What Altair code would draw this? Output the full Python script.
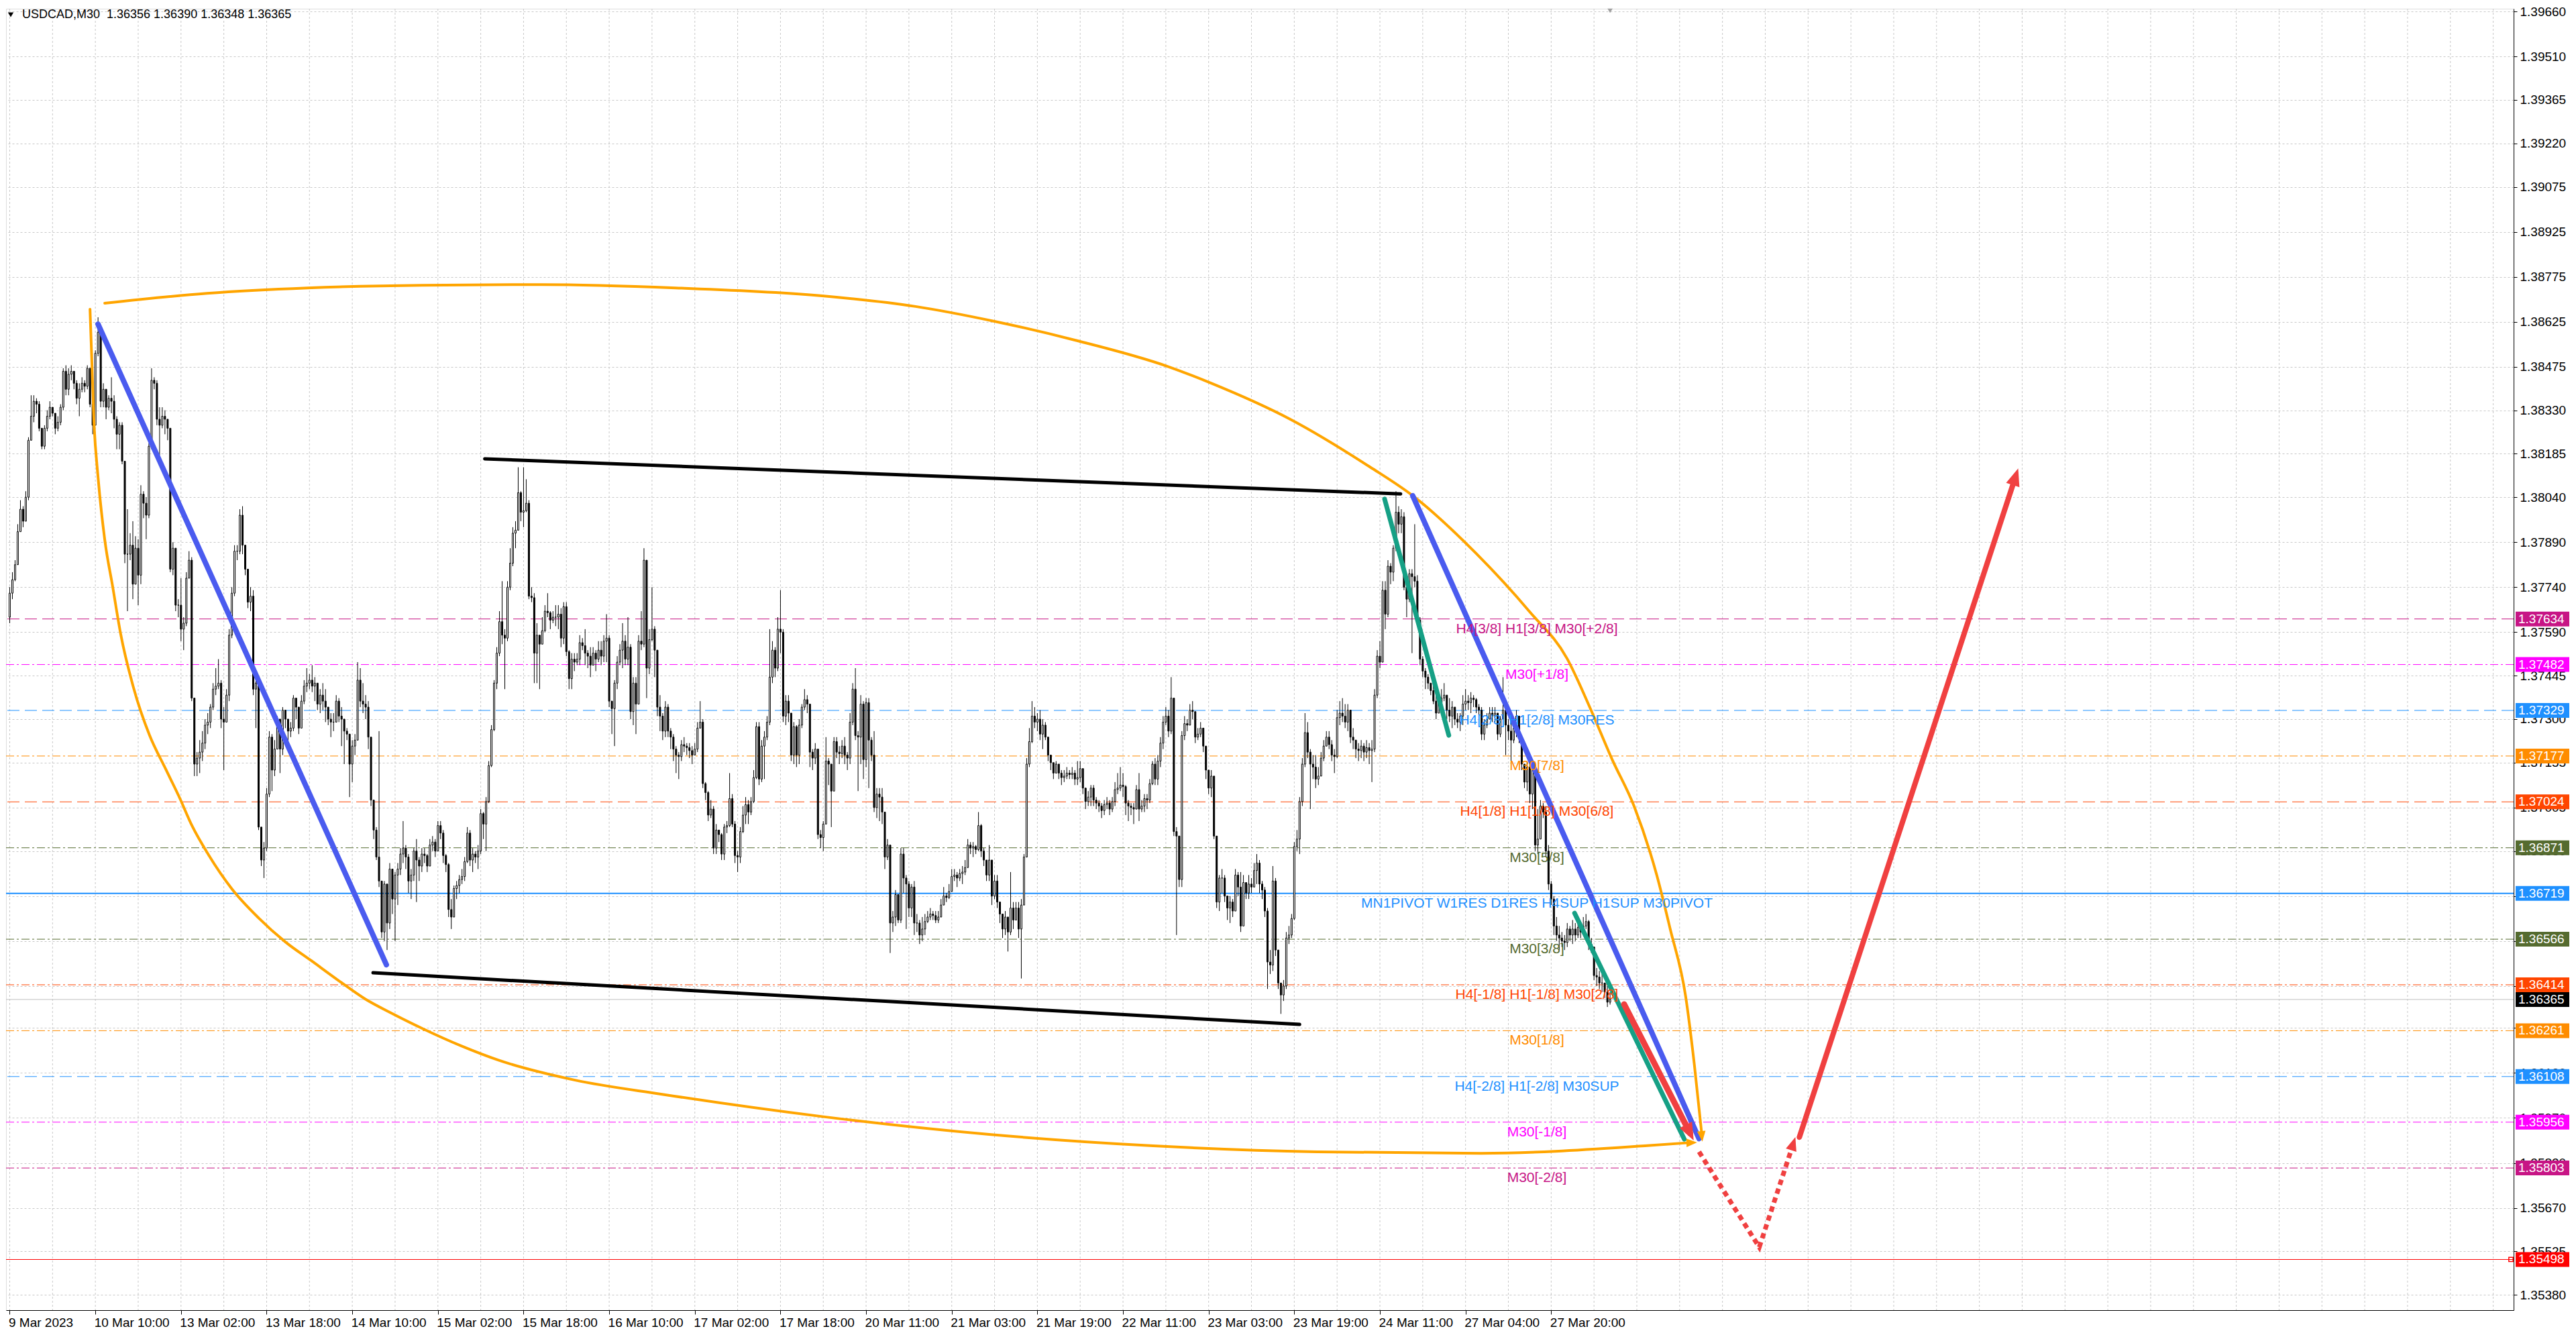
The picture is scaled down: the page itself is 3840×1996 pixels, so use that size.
import altair as alt
import pandas as pd

# ---------------- data ----------------
# candle values in 1e-5 units above 1.30000 (bar index = M30 bar number from 9 Mar 2023 18:00)
first_open = 7640
closes = [
 7720,7765,7815,7925,8000,7960,8040,8230,8310,8360,
 8350,8270,8210,8270,8310,8340,8320,8270,8290,8340,
 8460,8400,8450,8460,8420,8370,8400,8420,8410,8470,
 8350,8280,8520,8590,8360,8400,8340,8370,8360,8300,
 8250,8280,8160,7850,7850,7880,7750,7870,7780,8050,
 8020,7980,8210,8430,8420,8300,8280,8310,8300,8270,
 7800,7870,7680,7680,7600,7620,7770,7830,7370,7150,
 7170,7190,7220,7280,7290,7340,7400,7410,7420,7300,
 7290,7380,7580,7720,7860,7860,7980,7880,7800,7690,
 7710,7400,7420,6940,6830,6870,7050,7240,7130,7200,
 7300,7200,7330,7300,7260,7270,7370,7340,7270,7360,
 7410,7420,7430,7410,7420,7350,7380,7360,7340,7300,
 7290,7290,7360,7310,7300,7260,7250,7150,7210,7230,
 7430,7360,7350,7340,7240,7030,6930,6840,6760,6590,
 6750,6620,6800,6700,6780,6800,6850,6870,6840,6760,
 6780,6860,6830,6810,6850,6845,6810,6880,6890,6860,
 6945,6920,6845,6815,6665,6640,6735,6745,6765,6775,
 6825,6920,6830,6850,6840,6860,6985,6950,7025,7145,
 7265,7420,7520,7625,7580,7570,7740,7820,7920,7930,
 8055,7990,7995,8020,7710,7705,7520,7580,7550,7595,
 7660,7655,7630,7640,7640,7650,7570,7675,7525,7435,
 7500,7490,7500,7555,7545,7520,7510,7480,7520,7500,
 7530,7510,7560,7570,7360,7335,7420,7490,7530,7560,
 7500,7540,7325,7420,7350,7560,7550,7830,7470,7565,
 7600,7530,7340,7310,7260,7340,7260,7240,7200,7180,
 7175,7215,7210,7205,7195,7180,7200,7270,7290,7085,
 7055,6980,7000,6870,6930,6915,6850,6940,6945,7035,
 6950,6845,6840,6925,6980,7015,6990,7025,7105,7275,
 7100,7210,7240,7290,7440,7530,7470,7600,7590,7310,
 7360,7320,7180,7275,7180,7280,7340,7365,7350,7190,
 7170,7200,6915,6905,6950,7160,7150,7060,7225,7190,
 7185,7210,7180,7170,7290,7400,7245,7240,7350,7165,
 7355,7230,7180,7005,7050,7040,6990,6840,6880,6620,
 6640,6715,6630,6850,6770,6750,6670,6740,6620,6620,
 6580,6600,6625,6640,6650,6645,6630,6640,6680,6710,
 6705,6725,6775,6780,6770,6785,6790,6805,6880,6870,
 6875,6865,6945,6860,6830,6780,6830,6710,6760,6690,
 6650,6600,6640,6590,6670,6630,6670,6600,6680,6840,
 7150,7225,7310,7290,7300,7250,7280,7240,7180,7155,
 7120,7150,7120,7105,7110,7120,7115,7120,7100,7105,
 7135,7070,7025,7040,7070,7030,7020,7010,6995,7015,
 7020,7000,7025,7065,7070,7080,7075,7020,7010,7005,
 7000,7065,7000,7010,7035,7030,7085,7150,7100,7160,
 7220,7290,7310,7260,7370,6925,6910,6765,7245,7285,
 7280,7330,7325,7240,7250,7270,7210,7130,7070,7110,
 6910,6690,6770,6770,6710,6670,6690,6660,6780,6740,
 6610,6755,6720,6750,6740,6795,6820,6750,6730,6660,
 6490,6480,6760,6530,6420,6380,6410,6570,6580,6635,
 6875,6900,7025,7150,7255,7190,7150,7140,7100,7110,
 7170,7210,7240,7215,7180,7175,7305,7320,7310,7290,
 7330,7240,7230,7200,7195,7210,7190,7205,7195,7200,
 7380,7510,7490,7730,7650,7810,7790,7870,7990,7950,
 7975,7740,7700,7785,7775,7760,7630,7500,7460,7440,
 7420,7395,7360,7320,7355,7370,7380,7330,7310,7340,
 7300,7290,7310,7350,7360,7355,7370,7365,7340,7330,
 7250,7280,7300,7320,7310,7320,7250,7300,7330,7280,
 7260,7230,7270,7310,7240,7150,7090,7140,7050,7130,
 6880,6900,7010,6990,6860,6750,6700,6610,6580,6570,
 6560,6555,6600,6580,6600,6580,6605,6590,6610,6625,
 6550,6540,6445,6440,6420,6420,6390,6356,6365,
]
highs = [
 7740,7790,7830,7950,8030,8010,8060,8240,8380,8380,
 8370,8360,8270,8280,8330,8360,8340,8320,8310,8350,
 8470,8480,8470,8480,8460,8430,8420,8440,8430,8480,
 8460,8360,8530,8640,8590,8420,8400,8380,8440,8380,
 8310,8290,8290,8160,8000,7920,7960,7910,7900,8080,
 8060,8040,8220,8470,8440,8430,8340,8340,8330,8290,
 8110,7890,7830,7700,7770,7640,7790,7860,7840,7370,
 7190,7230,7260,7300,7320,7350,7420,7470,7500,7430,
 7340,7400,7600,7740,7880,7880,8000,8010,7880,7800,
 7740,7730,7450,7410,6940,6890,7070,7260,7250,7230,
 7310,7290,7340,7330,7300,7290,7380,7360,7340,7380,
 7430,7470,7450,7480,7440,7420,7400,7420,7400,7340,
 7320,7320,7380,7370,7340,7300,7270,7240,7230,7250,
 7490,7470,7420,7380,7360,7240,7030,6940,7260,6760,
 6760,6650,6820,6800,6790,6820,6870,6960,6880,6850,
 6800,6870,6900,6840,6870,6870,6850,6900,6910,6900,
 6960,6960,6930,6850,6820,6700,6745,6760,6780,6800,
 6840,6940,6930,6870,6860,6880,7000,6990,7040,7160,
 7280,7430,7540,7660,7760,7600,7760,7870,7940,7960,
 8140,8060,8140,8100,8030,7740,7720,7620,7560,7640,
 7680,7720,7660,7660,7680,7680,7670,7690,7690,7530,
 7520,7520,7520,7580,7570,7600,7530,7540,7540,7530,
 7560,7560,7580,7650,7580,7360,7430,7510,7550,7620,
 7580,7640,7550,7440,7440,7580,7660,7870,7830,7600,
 7740,7610,7530,7380,7320,7360,7350,7270,7250,7210,
 7190,7230,7240,7220,7220,7210,7220,7290,7360,7300,
 7090,7060,7030,7010,6950,6930,6920,6950,6960,7120,
 7050,6960,6860,6940,7010,7040,7030,7040,7130,7290,
 7290,7230,7260,7310,7600,7560,7540,7640,7730,7600,
 7380,7380,7320,7290,7280,7300,7350,7400,7380,7220,
 7200,7220,7140,6930,6960,7240,7170,7110,7240,7240,
 7210,7230,7240,7190,7320,7420,7470,7260,7380,7360,
 7370,7370,7240,7260,7070,7070,7070,6990,6900,6840,
 6660,6730,6700,6870,6870,6780,6760,6750,6760,6650,
 6630,6640,6650,6660,6670,6660,6660,6660,6700,6740,
 6720,6750,6800,6800,6790,6800,6810,6830,6900,6890,
 6890,6880,6990,6950,6870,6830,6880,6770,6780,6780,
 6690,6650,6660,6620,6790,6690,6690,6690,6700,6850,
 7170,7270,7360,7340,7320,7330,7300,7290,7240,7180,
 7150,7160,7150,7130,7130,7140,7130,7140,7130,7160,
 7160,7110,7070,7060,7080,7080,7040,7030,7020,7030,
 7040,7030,7040,7090,7120,7140,7120,7080,7030,7020,
 7020,7080,7120,7030,7050,7050,7100,7160,7170,7180,
 7240,7310,7340,7330,7440,7370,6940,6910,7260,7310,
 7300,7350,7360,7290,7270,7290,7260,7210,7130,7130,
 7100,6910,6780,6800,6780,6710,6710,6700,6800,6790,
 6790,6780,6750,6780,6770,6820,6850,6830,6760,6740,
 6670,6530,6810,6770,6520,6420,6430,6590,6610,6650,
 6890,6930,7040,7170,7320,7290,7200,7180,7180,7140,
 7190,7230,7260,7260,7230,7200,7330,7360,7370,7350,
 7350,7300,7270,7230,7220,7230,7220,7230,7220,7230,
 7400,7530,7560,7760,7760,7830,7820,7880,8060,8010,
 8000,7990,7750,7800,7800,7950,7780,7640,7510,7470,
 7450,7420,7420,7380,7380,7400,7420,7350,7370,7360,
 7330,7320,7320,7380,7400,7380,7390,7380,7370,7350,
 7340,7300,7320,7340,7340,7340,7310,7310,7440,7350,
 7300,7290,7300,7330,7300,7240,7150,7160,7150,7150,
 7070,7000,7030,7020,7010,6880,6760,6710,6640,6610,
 6590,6580,6620,6610,6630,6620,6630,6620,6640,6650,
 6630,6570,6540,6470,6460,6450,6420,6410,6390,
]
lows = [
 7620,7700,7760,7840,7940,7940,7990,8030,8230,8290,
 8320,8260,8200,8200,8260,8300,8310,8250,8260,8280,
 8330,8380,8380,8430,8400,8350,8310,8390,8390,8400,
 8340,8250,8300,8510,8340,8340,8300,8330,8320,8270,
 8200,8200,8150,7820,7660,7830,7700,7750,7680,7750,
 7970,7900,7970,8200,8400,8280,8180,8270,8250,8230,
 7790,7780,7660,7640,7560,7530,7610,7770,7360,7110,
 7110,7120,7160,7200,7250,7270,7330,7380,7400,7270,
 7130,7320,7360,7570,7710,7830,7850,7850,7780,7670,
 7660,7380,7270,6930,6810,6770,6860,7040,7060,7110,
 7200,7120,7180,7270,7210,7240,7260,7300,7250,7280,
 7350,7390,7400,7390,7360,7330,7320,7330,7290,7280,
 7240,7260,7290,7290,7210,7150,7230,7040,7090,7180,
 7230,7340,7320,7300,7200,7010,6900,6830,6740,6570,
 6560,6530,6600,6650,6560,6680,6780,6820,6800,6720,
 6700,6760,6690,6760,6790,6820,6790,6820,6860,6840,
 6880,6900,6820,6790,6640,6600,6680,6700,6720,6750,
 6760,6820,6810,6790,6820,6800,6850,6900,6860,7020,
 7140,7260,7400,7510,7550,7400,7560,7730,7810,7870,
 7930,7960,7940,7990,7700,7690,7420,7420,7400,7550,
 7590,7640,7600,7620,7610,7600,7540,7550,7510,7400,
 7400,7460,7480,7480,7530,7480,7470,7440,7480,7460,
 7490,7480,7490,7490,7340,7250,7210,7400,7480,7470,
 7480,7480,7300,7280,7250,7420,7530,7540,7370,7450,
 7560,7440,7310,7260,7230,7240,7240,7200,7160,7120,
 7100,7160,7190,7180,7170,7150,7180,7190,7270,7070,
 7030,6960,6970,6850,6850,6890,6830,6830,6920,6940,
 6940,6820,6790,6820,6920,6950,6950,6980,7020,7100,
 7080,7090,7100,7230,7280,7420,7440,7460,7520,7290,
 7280,7290,7160,7150,7140,7150,7270,7330,7320,7140,
 7130,7150,6900,6870,6860,6950,7080,6940,7090,7170,
 7150,7170,7150,7130,7150,7280,7230,7060,7150,7100,
 7140,7070,7160,6990,6970,6960,6950,6800,6830,6520,
 6590,6610,6620,6620,6720,6600,6640,6640,6580,6590,
 6550,6560,6580,6620,6630,6630,6620,6620,6640,6680,
 6690,6700,6730,6760,6740,6760,6750,6780,6820,6850,
 6840,6850,6860,6840,6810,6760,6760,6680,6700,6670,
 6620,6570,6580,6525,6580,6600,6630,6570,6435,6680,
 6840,7140,7220,7270,7260,7230,7200,7230,7160,7130,
 7100,7120,7100,7080,7090,7100,7100,7100,7080,7080,
 7090,7050,7000,7010,7010,7010,7000,6990,6970,6980,
 7000,6980,6990,7010,7050,7060,7040,6980,6960,6980,
 6950,7000,6960,6990,6990,7000,7020,7080,7080,7080,
 7140,7200,7280,7240,7250,6910,6580,6740,6740,7230,
 7260,7310,7300,7220,7230,7240,7190,7100,7050,7040,
 6900,6670,6660,6720,6690,6630,6620,6640,6670,6710,
 6590,6720,6700,6700,6720,6740,6750,6720,6700,6640,
 6400,6450,6460,6510,6400,6317,6360,6400,6550,6570,
 6630,6860,6850,7010,7140,7170,7000,7100,7070,7080,
 7110,7160,7210,7200,7160,7120,7170,7280,7290,7270,
 7260,7220,7200,7170,7160,7170,7160,7170,7150,7090,
 7190,7370,7470,7500,7600,7640,7750,7760,7860,7920,
 7920,7730,7640,7690,7520,7740,7610,7480,7440,7400,
 7400,7380,7350,7300,7320,7340,7360,7300,7290,7270,
 7280,7270,7260,7280,7330,7330,7320,7340,7320,7310,
 7230,7230,7270,7300,7290,7290,7230,7240,7300,7180,
 7230,7160,7220,7240,7220,7130,7070,7060,7020,7000,
 6860,6850,6900,6970,6840,6730,6680,6580,6560,6530,
 6540,6530,6540,6560,6550,6560,6570,6570,6580,6600,
 6530,6520,6430,6410,6400,6390,6370,6340,6348,
]

symbol = "USDCAD,M30"
last_ohlc = [1.36356, 1.36390, 1.36348, 1.36365]

time_labels = ["9 Mar 2023", "10 Mar 10:00", "13 Mar 02:00", "13 Mar 18:00", "14 Mar 10:00",
               "15 Mar 02:00", "15 Mar 18:00", "16 Mar 10:00", "17 Mar 02:00", "17 Mar 18:00",
               "20 Mar 11:00", "21 Mar 03:00", "21 Mar 19:00", "22 Mar 11:00", "23 Mar 03:00",
               "23 Mar 19:00", "24 Mar 11:00", "27 Mar 04:00", "27 Mar 20:00"]
label_step = 32
grid_step = 16
shift_marker_bar = 598

y_ticks = [1.39660, 1.39510, 1.39365, 1.39220, 1.39075, 1.38925, 1.38775, 1.38625, 1.38475,
           1.38330, 1.38185, 1.38040, 1.37890, 1.37740, 1.37590, 1.37445, 1.37300, 1.37155,
           1.37005, 1.36860, 1.36710, 1.36560, 1.36410, 1.36270, 1.36120, 1.35970, 1.35820,
           1.35670, 1.35525, 1.35380]

level_prices = [1.37634, 1.37482, 1.37329, 1.37177, 1.37024, 1.36871, 1.36719, 1.36566,
                1.36414, 1.36261, 1.36108, 1.35956, 1.35803]
level_names = ["H4[3/8] H1[3/8] M30[+2/8]", "M30[+1/8]", "H4[2/8] H1[2/8] M30RES", "M30[7/8]",
               "H4[1/8] H1[1/8] M30[6/8]", "M30[5/8]",
               "MN1PIVOT W1RES D1RES H4SUP H1SUP M30PIVOT", "M30[3/8]",
               "H4[-1/8] H1[-1/8] M30[2/8]", "M30[1/8]", "H4[-2/8] H1[-2/8] M30SUP",
               "M30[-1/8]", "M30[-2/8]"]
level_colors = ["#C71585", "#FF00FF", "#1E90FF", "#FF8C00", "#FF4500", "#556B2F", "#1E90FF",
                "#556B2F", "#FF4500", "#FF8C00", "#1E90FF", "#FF00FF", "#C71585"]
level_styles = ["dash", "dashdot", "dash", "dashdot", "dash", "dashdot", "solid", "dashdot",
                "dashdot", "dashdot", "dash", "dashdot", "dashdot"]

current_price = 1.36365
stop_price = 1.35498

# drawn objects: (bar index, price)
blue_a = [(33.0, 1.38617), (140.75, 1.36481)]
blue_b = [(524.25, 1.38045), (631.25, 1.35901)]
black_top = [(177.5, 1.38168), (519.75, 1.38051)]
black_bottom = [(135.75, 1.36454), (482.0, 1.36282)]
green_a = [(513.75, 1.38034), (537.75, 1.37246)]
green_b = [(584.75, 1.36653), (625.75, 1.35899)]
red_down = [(603.25, 1.36349), (627.9, 1.35919)]
red_dotted = [(631.25, 1.35857), (653.75, 1.35539), (666.5, 1.35885)]
red_up = [(668.75, 1.35906), (749.6, 1.38111)]
orange_lower = [(30.0, 1.38667), (31.5, 1.38284), (33.0, 1.38107), (35.5, 1.37899), (38.5, 1.37740),
                (41.5, 1.37582), (46.25, 1.37405), (52.25, 1.37246), (58.25, 1.37134),
                (63.25, 1.37042), (68.25, 1.36942), (74.25, 1.36848), (83.0, 1.36734),
                (93.0, 1.36637), (103.0, 1.36557), (112.75, 1.36494), (122.75, 1.36429),
                (132.75, 1.36367), (142.5, 1.36320), (154.25, 1.36268), (168.75, 1.36210),
                (182.5, 1.36163), (211.25, 1.36096), (243.75, 1.36049), (305.0, 1.35973),
                (366.0, 1.35915), (427.25, 1.35877), (488.5, 1.35857), (549.75, 1.35852),
                (611.0, 1.35877), (628.5, 1.35888)]
orange_upper = [(35.5, 1.38687), (73.75, 1.38720), (111.25, 1.38738), (154.25, 1.38747),
                (198.75, 1.38749), (248.75, 1.38738), (304.25, 1.38711), (338.5, 1.38676),
                (368.25, 1.38626), (398.0, 1.38564), (432.75, 1.38476), (448.75, 1.38421),
                (478.5, 1.38300), (508.25, 1.38141), (524.25, 1.38045), (548.0, 1.37852),
                (567.75, 1.37660), (582.0, 1.37501), (590.5, 1.37338), (598.75, 1.37166),
                (607.0, 1.37009), (615.5, 1.36778), (620.5, 1.36599), (626.25, 1.36375),
                (629.5, 1.36147), (632.25, 1.35917)]
# arrow heads: bar, price, rotation (deg, clockwise from up), colour, size
heads = [(630.5, 1.35888, 88, "#FFA500", 250),
         (632.5, 1.35891, 174, "#FFA500", 250),
         (629.25, 1.35895, 153, "#F04040", 680),
         (667.25, 1.35906, 18, "#F04040", 420),
         (750.5, 1.38136, 18, "#F04040", 680)]

# ---------------- chart ----------------
W, H = 3738, 1940
XDOM = [-0.125, 934.375]
YDOM = [1.35329, 1.39669]
FONT = "Liberation Sans"

lab_js = "[" + ",".join("'%s'" % s for s in time_labels) + "]"
x_axis = alt.Axis(values=[i * label_step for i in range(len(time_labels))],
                  labelExpr=f"{lab_js}[round(datum.value / {label_step})]",
                  labelAlign="left", labelBaseline="top", labelPadding=3, tickSize=6,
                  grid=False, domainColor="black", tickColor="black", labelColor="black",
                  labelFont=FONT, labelFontSize=19, labelOverlap=False, labelFlush=False,
                  labelOffset=-2, title=None)
y_axis = alt.Axis(orient="right", values=y_ticks, format=".5f", labelAlign="left",
                  labelBaseline="middle", labelPadding=4, tickSize=5, grid=True,
                  gridDash=[3, 3], gridColor="#C8C8C8", domainColor="black", tickColor="black",
                  labelColor="black", labelFont=FONT, labelFontSize=19, labelOverlap=False,
                  title=None)


def X(field="bar"):
    return alt.X(f"{field}:Q", scale=alt.Scale(domain=XDOM, nice=False, zero=False), axis=x_axis)


def Y(field="price"):
    return alt.Y(f"{field}:Q", scale=alt.Scale(domain=YDOM, nice=False, zero=False), axis=y_axis)


def px(v):
    return round(1.3 + v * 1e-5, 5)


n = len(closes)
opens = [first_open] + closes[:-1]
cdf = pd.DataFrame({"bar": list(range(n)), "open": [px(v) for v in opens],
                    "close": [px(v) for v in closes], "high": [px(v) for v in highs],
                    "low": [px(v) for v in lows]})

layers = []

# vertical grid
gdf = pd.DataFrame({"bar": list(range(0, int(XDOM[1]) + 1, grid_step))})
layers.append(alt.Chart(gdf).mark_rule(color="#C8C8C8", strokeWidth=1, strokeDash=[3, 3]).encode(x=X()))

# level lines
ldf = pd.DataFrame({"price": level_prices, "name": level_names, "color": level_colors,
                    "style": level_styles})
dashes = {"dash": [18, 8], "dashdot": [12, 4, 3, 4]}
for st, d in dashes.items():
    layers.append(alt.Chart(ldf[ldf["style"] == st]).mark_rule(strokeWidth=1, strokeDash=d).encode(
        y=Y(), color=alt.Color("color:N", scale=None)))
layers.append(alt.Chart(ldf[ldf["style"] == "solid"]).mark_rule(strokeWidth=2).encode(
    y=Y(), color=alt.Color("color:N", scale=None)))
layers.append(alt.Chart(pd.DataFrame({"price": [current_price]})).mark_rule(
    strokeWidth=1, color="#C0C0C0").encode(y=Y()))
layers.append(alt.Chart(pd.DataFrame({"price": [stop_price]})).mark_rule(
    strokeWidth=1, color="#FF0000").encode(y=Y()))
layers.append(alt.Chart(pd.DataFrame({"price": [stop_price]})).mark_point(
    shape="square", size=40, filled=False, color="#FF0000", strokeWidth=1.5, opacity=1).encode(
    y=Y(), x=alt.value(W - 4)))

# candles
layers.append(alt.Chart(cdf).mark_rule(color="black", strokeWidth=1).encode(
    x=X(), y=Y("low"), y2="high"))
layers.append(alt.Chart(cdf).mark_bar(size=2, stroke="black", strokeWidth=1).encode(
    x=X(), y=Y("open"), y2="close",
    fill=alt.condition("datum.close > datum.open", alt.value("white"), alt.value("black"))))


def line(points, color, width, dash=None, cap="round", interp="linear"):
    df = pd.DataFrame({"bar": [p[0] for p in points], "price": [p[1] for p in points],
                       "i": list(range(len(points)))})
    kw = dict(color=color, strokeWidth=width, strokeCap=cap, interpolate=interp)
    if dash:
        kw["strokeDash"] = dash
    return alt.Chart(df).mark_line(**kw).encode(x=X(), y=Y(), order="i:Q")


layers.append(line(black_top, "black", 5))
layers.append(line(black_bottom, "black", 5))
layers.append(line(orange_lower, "#FFA500", 4, interp="monotone"))
layers.append(line(orange_upper, "#FFA500", 4, interp="monotone"))
layers.append(line(blue_a, "#4A5BEF", 8))
layers.append(line(blue_b, "#4A5BEF", 8))
layers.append(line(green_a, "#16A085", 7))
layers.append(line(green_b, "#16A085", 7))
layers.append(line(red_down, "#F04040", 9))
layers.append(line(red_dotted, "#F04040", 7, dash=[8, 6], cap="butt"))
layers.append(line(red_up, "#F04040", 8))

hdf = pd.DataFrame({"bar": [h[0] for h in heads], "price": [h[1] for h in heads],
                    "ang": [h[2] for h in heads], "color": [h[3] for h in heads],
                    "size": [h[4] for h in heads]})
layers.append(alt.Chart(hdf).mark_point(shape="M0,0L-0.8,2L0.8,2Z", filled=True, opacity=1,
                                        strokeWidth=0).encode(
    x=X(), y=Y(), angle=alt.Angle("ang:Q", scale=None), color=alt.Color("color:N", scale=None),
    size=alt.Size("size:Q", scale=None)))

# level text labels
layers.append(alt.Chart(ldf).mark_text(align="center", baseline="alphabetic", dy=21, fontSize=21,
                                       font=FONT).encode(
    x=alt.value(2282), y=Y(), text="name:N", color=alt.Color("color:N", scale=None)))

# price tags on the right axis
tdf = pd.DataFrame({"price": level_prices + [current_price, stop_price],
                    "color": level_colors + ["#000000", "#FF0000"]})
layers.append(alt.Chart(tdf).mark_tick(orient="horizontal", size=80, thickness=22, opacity=1).encode(
    x=alt.value(W + 43), y=Y(), color=alt.Color("color:N", scale=None)))
layers.append(alt.Chart(tdf).mark_text(align="left", baseline="middle", color="white", fontSize=19,
                                       font=FONT).encode(
    x=alt.value(W + 7), y=Y(), text=alt.Text("price:Q", format=".5f")))

# chart-shift marker at the top edge
layers.append(alt.Chart(pd.DataFrame({"bar": [shift_marker_bar]})).mark_point(
    shape="triangle-down", filled=True, size=60, color="#A0A0A0", opacity=1).encode(
    x=X(), y=alt.value(3)))

# header
header = symbol + "\u00a0\u00a0" + " ".join("%.5f" % v for v in last_ohlc)
layers.append(alt.Chart(pd.DataFrame({"t": [header]})).mark_text(
    align="left", baseline="middle", fontSize=18, font=FONT, color="black").encode(
    x=alt.value(24), y=alt.value(9), text="t:N"))
layers.append(alt.Chart(pd.DataFrame({"t": [header]})).mark_point(
    shape="triangle-down", filled=True, size=70, color="black", opacity=1).encode(
    x=alt.value(7), y=alt.value(9)))

chart = alt.layer(*layers).properties(
    width=W, height=H, padding={"left": 0, "top": 0, "right": 2, "bottom": 2}
).configure_view(stroke="black", strokeWidth=1).configure(background="white")

chart.save("out.html", embed_options={"renderer": "svg", "actions": False})
